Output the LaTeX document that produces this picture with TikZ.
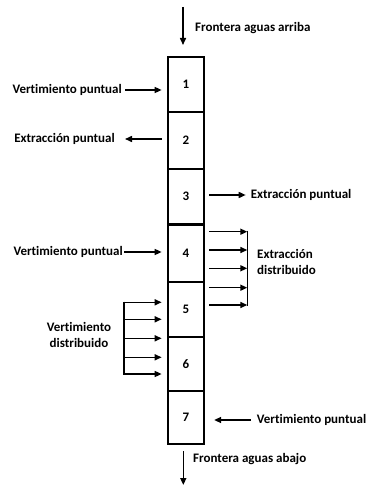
\documentclass[tikz,border=0pt]{standalone}
\usepackage{fontspec}
\setmainfont[Ligatures=NoCommon]{Carlito}
\usetikzlibrary{arrows.meta}
\begin{document}
\begin{tikzpicture}[x=1pt,y=-1pt,
 txt/.style={font=\bfseries\fontsize{13}{16}\selectfont},
 cell/.style={draw, line width=2.2pt, minimum width=36.3pt, inner sep=0pt, anchor=north, txt},
 lbl/.style={inner sep=0pt, txt},
 arr/.style={line width=1.5pt, -{Triangle[length=7pt,width=6pt]}},
 bar/.style={line width=1.5pt}]
\useasboundingbox (0,0) rectangle (367,486);
% cells
\node[cell, minimum height=54.7pt] (b1) at (185.9,56) {1};
\node[cell, minimum height=57pt]   (b2) at (185.9,110.7) {2};
\node[cell, minimum height=55.6pt] (b3) at (185.9,167.7) {3};
\node[cell, minimum height=57.7pt] (b4) at (185.9,223.3) {4};
\node[cell, minimum height=54.7pt] (b5) at (185.9,281) {5};
\node[cell, minimum height=54.3pt] (b6) at (185.9,335.7) {6};
\node[cell, minimum height=53pt]   (b7) at (185.9,390) {7};
% upstream boundary
\coordinate (ut) at (183,7);
\coordinate (ub) at (183,45);
\draw[arr] (ut) -- (ub);
\node[lbl, anchor=west] (fu) at (195,28) {Frontera aguas arriba};
% downstream boundary
\coordinate (dt) at (183.3,451);
\coordinate (db) at (183.3,485);
\draw[arr] (dt) -- (db);
\node[lbl, anchor=west] (fd) at (193,459.5) {Frontera aguas abajo};
% point discharge 1
\node[lbl, anchor=east] (v1) at (122,90) {Vertimiento puntual};
\draw[arr] ([xshift=3pt]v1.east) -- ([xshift=-5pt]b1.west |- v1.east);
% point extraction 2
\node[lbl, anchor=east] (e2) at (115,139) {Extracción puntual};
\draw[arr] ([xshift=-5pt]b2.west |- e2.east) -- ([xshift=10pt]e2.east);
% point extraction 3
\node[lbl, anchor=west] (e3) at (250.7,195) {Extracción puntual};
\draw[arr] ([xshift=4pt]b3.east |- e3.west) -- ([xshift=-5pt]e3.west);
% point discharge 4
\node[lbl, anchor=east] (v4) at (123,252) {Vertimiento puntual};
\draw[arr] ([xshift=1pt]v4.east) -- ([xshift=-5pt]b4.west |- v4.east);
% point discharge 7
\node[lbl, anchor=west] (v7) at (256.7,420) {Vertimiento puntual};
\draw[arr] ([xshift=-6pt]v7.west) -- ([xshift=9pt]b7.east |- v7.west);
% distributed extraction
\node[lbl, anchor=west, align=left] (ed) at (257,262) {Extracción\\distribuido};
\coordinate (eb1) at (247.3,230.7);
\coordinate (eb2) at (247.3,305.7);
\draw[bar] (eb1) -- (eb2);
\foreach \yy in {231.7,250,268.3,287.7,305} {
  \draw[arr] ([xshift=4pt]b4.east |- 0,\yy) -- (eb1 |- 0,\yy);
}
% distributed discharge
\node[lbl, align=center] (vd) at (79,335) {Vertimiento\\distribuido};
\coordinate (vb1) at (124,301.7);
\coordinate (vb2) at (124,374.6);
\draw[bar] (vb1) -- (vb2);
\foreach \yy in {302.3,319.3,338.3,357.3,374} {
  \draw[arr] (vb1 |- 0,\yy) -- ([xshift=-5pt]b5.west |- 0,\yy);
}
\end{tikzpicture}
\end{document}
